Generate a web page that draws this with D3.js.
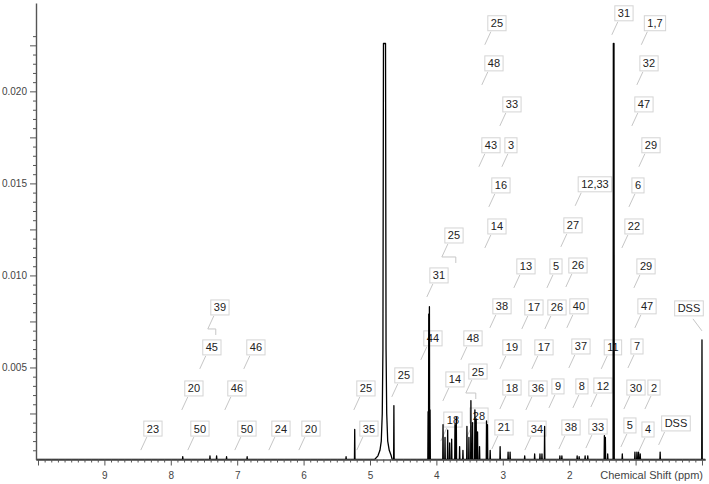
<!DOCTYPE html>
<html><head><meta charset="utf-8">
<script src="https://cdn.jsdelivr.net/npm/d3@7"></script>
<style>
body{margin:0;background:#fff;}
svg{display:block;font-family:"Liberation Sans", Arial, sans-serif;}
</style>
</head><body>
<svg id="c" width="709" height="484"></svg>
<script>
// ---- spectrum peaks (ppm, intensity) ----
const peakPpm = [7.82,7.41,7.31,7.16,6.85,5.36,5.23,4.64,
  4.125,4.115,4.105,4.095,
  3.90,3.87,3.83,3.80,3.77,3.72,3.70,3.65,3.60,3.54,3.51,3.48,3.455,3.42,3.40,3.38,3.35,
  3.245,3.23,3.19,3.04,2.92,2.89,2.67,2.52,2.44,2.41,2.37,2.14,2.11,1.88,1.85,1.76,1.72,
  1.47,1.455,1.42,1.335,1.325,1.20,1.01,0.98,0.955,0.93,0.63,0.0];
const peakHeight = [0.00016,0.0002,0.0002,0.00015,0.00015,0.00015,0.00163,0.00293,
  0.0026,0.0079,0.0083,0.0027,
  0.0019,0.0012,0.0016,0.0009,0.0011,0.0019,0.0023,0.0007,0.0005,0.0018,0.0012,0.0032,0.0020,0.0027,0.0022,0.0015,0.0007,
  0.0021,0.0019,0.0005,0.0007,0.0004,0.0004,0.0002,0.0003,0.0003,0.0003,0.0018,0.0002,0.0002,0.0002,0.00015,0.0002,0.0002,
  0.0013,0.0012,0.0003,0.0226,0.0226,0.0003,0.0004,0.0004,0.0004,0.0003,0.0004,0.0065];

// ---- broad water signal profile (ppm, intensity) ----
const waterPpm   = [4.93,4.88,4.85,4.83,4.815,4.805,4.797,4.766,4.758,4.748,4.733,4.71,4.68,4.665];
const waterLevel = [0,0.0002,0.0005,0.0010,0.0025,0.006,0.0226,0.0226,0.006,0.0025,0.0010,0.0005,0.0002,0];

// ---- annotations: label, ppm, intensity level, multiplet span (ppm) ----
const annoText = ["25","31","1,7","48","32","33","47","43","3","29",
  "16","12,33","6","14","27","22","25","13","5","26",
  "29","31","39","38","17","26","40","47","DSS","44",
  "48","45","46","19","17","37","11","7","25","25",
  "14","20","46","25","18","36","9","8","12","30",
  "2","28","18","23","50","50","24","20","35","21",
  "34","38","33","5","4","DSS"];
const annoPpm = [3.088,1.175,0.708,3.133,0.798,2.862,0.874,3.178,2.877,0.768,
  3.028,1.612,0.964,3.088,1.943,1.024,3.735,2.651,2.199,1.868,
  0.843,3.961,7.260,3.012,2.531,2.184,1.853,0.828,0.196,4.052,
  3.449,7.381,6.718,2.862,2.380,1.823,1.341,0.979,3.374,4.489,
  3.720,7.652,7.004,5.061,2.862,2.470,2.169,1.808,1.491,0.994,
  0.723,3.359,3.751,8.269,7.561,6.853,6.341,5.889,5.016,2.982,
  2.485,1.973,1.566,1.085,0.813,0.392];
const annoLevel = [0.02370,0.02424,0.02370,0.02152,0.02152,0.01929,0.01929,0.01707,0.01707,0.01707,
  0.01489,0.01495,0.01489,0.01266,0.01272,0.01266,0.01217,0.01049,0.01049,0.01054,
  0.01049,0.01000,0.00826,0.00832,0.00826,0.00826,0.00832,0.00832,0.00821,0.00658,
  0.00658,0.00609,0.00609,0.00609,0.00609,0.00614,0.00609,0.00614,0.00478,0.00457,
  0.00435,0.00386,0.00386,0.00386,0.00391,0.00386,0.00397,0.00397,0.00402,0.00391,
  0.00391,0.00239,0.00217,0.00168,0.00168,0.00168,0.00168,0.00168,0.00168,0.00174,
  0.00168,0.00174,0.00179,0.00185,0.00163,0.00196];
const annoSpan = annoText.map(() => 0);
annoSpan[16] = 0.21; annoSpan[22] = 0.12; annoSpan[38] = 0.15;

// ---- axis labels ----
const xTickLabels = ["9","8","7","6","5","4","3","2"];
const yTickLabels = ["0.005","0.010","0.015","0.020"];
const xAxisTitle = "Chemical Shift (ppm)";

const svg = d3.select("#c");
const x = d3.scaleLinear().domain([10.03, -0.05]).range([36, 705.3]);
const y = d3.scaleLinear().domain([0, 0.0248]).range([459.5, 3]);

// ---- annotations (under spectrum) ----
const gA = svg.append("g");
annoText.forEach((t, i) => {
  const cx = x(annoPpm[i]), cy = y(annoLevel[i]);
  const g = gA.append("g");
  const rect = g.append("rect");
  const txt = g.append("text")
    .attr("x", cx).attr("y", cy + 4)
    .attr("text-anchor", "middle")
    .attr("font-size", 11).attr("fill", "#222").text(t);
  const tw = txt.node().getComputedTextLength();
  const w = tw + 6, h = 15;
  rect.attr("x", cx - w / 2).attr("y", cy - h / 2).attr("width", w).attr("height", h)
    .attr("fill", "#fff").attr("stroke", "#d4d4d4").attr("stroke-width", 1);
  let pts;
  if (cx > 685) {
    const sx = cx + 4, sy = cy + h / 2 + 3;
    pts = [[sx, sy], [sx + 9, sy + 12]];
  } else {
    const sx = cx - w / 2 + 3, sy = cy + h / 2 + 1;
    pts = [[sx, sy], [sx - 6, sy + 13]];
    if (annoSpan[i] > 0) {
      const ex = sx - 6, ey = sy + 13;
      const span = Math.abs(x(0) - x(annoSpan[i]));
      pts.push([ex + span, ey], [ex + span, ey + 6]);
    }
  }
  g.append("path").attr("d", d3.line()(pts))
    .attr("fill", "none").attr("stroke", "#c6c6c6").attr("stroke-width", 1);
});

// ---- spectrum ----
const hw = 0.004;
let pts = [[10.03, 0], [-0.05, 0]];
peakPpm.forEach((p, i) => {
  pts.push([p + hw, 0], [p, peakHeight[i]], [p - hw, 0]);
});
waterPpm.forEach((p, i) => pts.push([p, waterLevel[i]]));
pts.sort((a, b) => b[0] - a[0]);
svg.append("path")
  .attr("d", d3.line().x(d => x(d[0])).y(d => y(d[1]))(pts))
  .attr("fill", "none").attr("stroke", "#000").attr("stroke-width", 1.3)
  .attr("stroke-linejoin", "round");

// ---- axes ----
const axisColor = "#555";
const xMinor = d3.range(0, 101).map(i => i / 10);
const gxMinor = svg.append("g").attr("transform", `translate(0,${y(0)})`)
  .call(d3.axisBottom(x).tickValues(xMinor.filter(v => Math.abs(v - Math.round(v)) > 1e-6))
    .tickSize(3).tickSizeOuter(0).tickFormat(""));
const xMajorVals = d3.range(0, 11);
const gxMajor = svg.append("g").attr("transform", `translate(0,${y(0)})`)
  .call(d3.axisBottom(x).tickValues(xMajorVals).tickSize(6).tickSizeOuter(0).tickPadding(6)
    .tickFormat(v => { const s = String(v); return xTickLabels.includes(s) ? s : ""; }));
gxMajor.select(".domain").remove();
gxMinor.select(".domain").attr("stroke", axisColor).attr("stroke-width", 1.4);
[gxMinor, gxMajor].forEach(g => {
  g.selectAll(".tick line").attr("stroke", axisColor);
  g.selectAll(".tick text").attr("fill", "#444").attr("font-size", 10)
    .attr("font-family", "Liberation Sans, Arial, sans-serif");
});

const yMinor = d3.range(0, 47).map(i => i * 0.0005);
const gyMinor = svg.append("g").attr("transform", `translate(${x(10.03)},0)`)
  .call(d3.axisLeft(y).tickValues(yMinor.filter((v, i) => i % 5 !== 0)).tickSize(3).tickSizeOuter(0).tickFormat(""));
const yLabVals = yTickLabels.map(Number);
const gyMajor = svg.append("g").attr("transform", `translate(${x(10.03)},0)`)
  .call(d3.axisLeft(y).tickValues(yMinor.filter((v, i) => i % 5 === 0 && i > 0)).tickSize(6).tickPadding(3).tickSizeOuter(0)
    .tickFormat(v => { const k = yLabVals.findIndex(u => Math.abs(u - v) < 1e-9); return k >= 0 ? yTickLabels[k] : ""; }));
gyMajor.select(".domain").remove();
gyMinor.select(".domain").attr("stroke", axisColor).attr("stroke-width", 1.4);
[gyMinor, gyMajor].forEach(g => {
  g.selectAll(".tick line").attr("stroke", axisColor);
  g.selectAll(".tick text").attr("fill", "#444").attr("font-size", 10)
    .attr("font-family", "Liberation Sans, Arial, sans-serif");
});

svg.append("text").attr("x", 703).attr("y", y(0) + 12 + 7.3)
  .attr("text-anchor", "end").attr("font-size", 11).attr("fill", "#444").text(xAxisTitle);
</script>
</body></html>
